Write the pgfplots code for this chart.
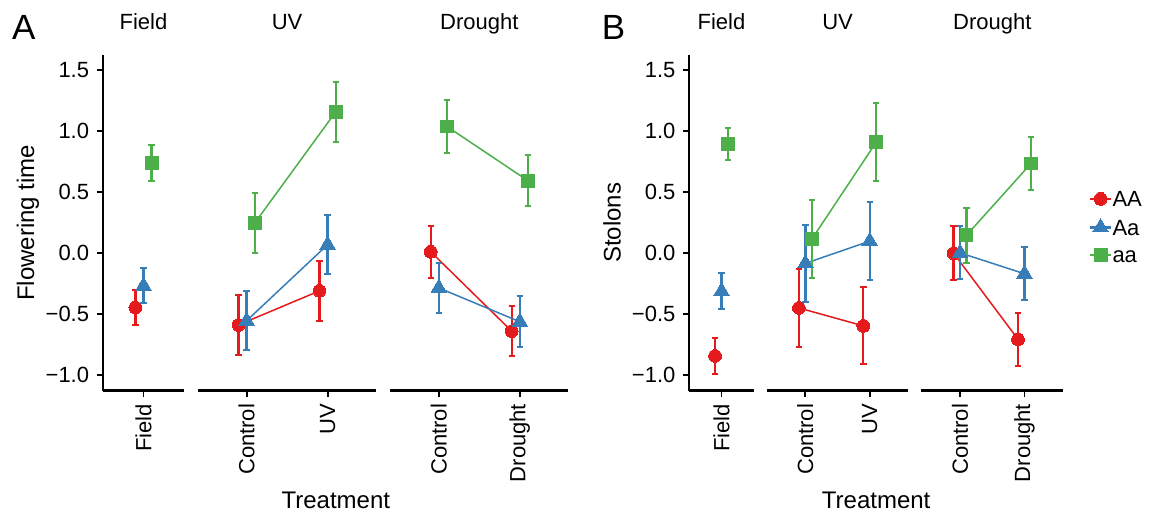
\documentclass[border=0pt]{standalone}
\usepackage{fontspec}
\setmainfont{Liberation Sans}
\usepackage{pgfplots}
\pgfplotsset{compat=1.18}

\definecolor{cAA}{HTML}{E41A1C}
\definecolor{cAa}{HTML}{377EB8}
\definecolor{caa}{HTML}{4DAF4A}

\newcommand{\ticksize}{\fontsize{11}{13}\selectfont}
\newcommand{\stripsize}{\fontsize{11}{13}\selectfont}
\newcommand{\labsize}{\fontsize{12}{14}\selectfont}

\pgfplotsset{
  facet/.style={
    scale only axis, height=167.75pt,
    ymin=-1.124, ymax=1.623,
    anchor=south west, clip=false,
    axis x line*=bottom,
    axis line style={line width=1.1pt, -},
    tick align=outside, major tick length=3pt,
    tick style={line width=0.9pt, black},
    tick label style={font=\ticksize},
    xticklabel style={rotate=90, anchor=east, inner sep=0pt},
    xticklabel shift=3.5pt,
    yticklabel style={anchor=east, inner sep=0pt},
    yticklabel shift=3.75pt,
    title style={at={(0.5,1)}, anchor=base, yshift=6.65pt, font=\stripsize, inner sep=0pt},
    every axis plot/.append style={line width=0.75pt},
    error bars/y dir=both, error bars/y explicit,
    error bars/error bar style={line width=1.15pt},
    error bars/error mark options={rotate=90, line width=1pt, mark size=1.6pt},
  },
  firstfacet/.style={facet, axis y line*=left, xmin=-0.5, xmax=0.5, xtick={0},
    ytick={-1,-0.5,0,0.5,1,1.5},
    yticklabels={−1.0,−0.5,0.0,0.5,1.0,1.5},
    ylabel style={at={([xshift=-34.4pt]rel axis cs:0,0.5)}, anchor=base, inner sep=0pt, font=\labsize}},
  otherfacet/.style={facet, axis y line=none, xmin=-0.6, xmax=1.6, xtick={0,1}},
  gAA/.style={cAA, mark=*, mark size=3.2pt, mark options={solid, line width=0pt}},
  gAa/.style={cAa, mark=triangle*, mark size=4.5pt, mark options={solid, line width=0pt}},
  gaa/.style={caa, mark=square*, mark size=3.2pt, mark options={solid, line width=0pt}},
}

\begin{document}
\begin{tikzpicture}
\useasboundingbox (0,0) rectangle (574.5pt,258pt);

% ---------- Panel A: flowering time ----------
\begin{axis}[firstfacet, at={(51.5pt,62.75pt)}, width=40.5pt,
  title={Field}, xticklabels={Field}, ylabel={Flowering time}]
  \addplot[gAA] coordinates {(-0.1,-0.445) +- (0,0.142)};
  \addplot[gAa] coordinates {(0,-0.267) +- (0,0.143)};
  \addplot[gaa] coordinates {(0.1,0.737) +- (0,0.148)};
  \node[anchor=base west, inner sep=0pt, font=\fontsize{17.5}{20}\selectfont]
    at ([xshift=-45.65pt, yshift=7.85pt]rel axis cs:0,1) {A};
\end{axis}

\begin{axis}[otherfacet, at={(99pt,62.75pt)}, width=89.1pt,
  title={UV}, xticklabels={Control,UV}, xlabel={Treatment},
  xlabel style={at={([xshift=24.35pt, yshift=-58.9pt]rel axis cs:0.5,0)}, anchor=base, inner sep=0pt, font=\labsize}]
  \addplot[gAA] coordinates {(-0.1,-0.587) +- (0,0.244) (0.9,-0.308) +- (0,0.243)};
  \addplot[gAa] coordinates {(0,-0.553) +- (0,0.242) (1,0.070) +- (0,0.240)};
  \addplot[gaa] coordinates {(0.1,0.247) +- (0,0.247) (1.1,1.157) +- (0,0.248)};
\end{axis}

\begin{axis}[otherfacet, at={(195.1pt,62.75pt)}, width=89.1pt,
  title={Drought}, xticklabels={Control,Drought}]
  \addplot[gAA] coordinates {(-0.1,0.012) +- (0,0.215) (0.9,-0.638) +- (0,0.206)};
  \addplot[gAa] coordinates {(0,-0.284) +- (0,0.208) (1,-0.561) +- (0,0.210)};
  \addplot[gaa] coordinates {(0.1,1.038) +- (0,0.220) (1.1,0.594) +- (0,0.211)};
\end{axis}

% ---------- Panel B: stolons ----------
\begin{axis}[firstfacet, at={(344.65pt,62.75pt)}, width=32.2pt,
  title={Field}, xticklabels={Field}, ylabel={Stolons}]
  \addplot[gAA] coordinates {(-0.1,-0.841) +- (0,0.145)};
  \addplot[gAa] coordinates {(0,-0.311) +- (0,0.148)};
  \addplot[gaa] coordinates {(0.1,0.894) +- (0,0.133)};
  \node[anchor=base west, inner sep=0pt, font=\fontsize{17.5}{20}\selectfont]
    at ([xshift=-43.95pt, yshift=7.85pt]rel axis cs:0,1) {B};
\end{axis}

\begin{axis}[otherfacet, at={(383.35pt,62.75pt)}, width=70.85pt,
  title={UV}, xticklabels={Control,UV}, xlabel={Treatment},
  xlabel style={at={([xshift=19.3pt, yshift=-58.9pt]rel axis cs:0.5,0)}, anchor=base, inner sep=0pt, font=\labsize}]
  \addplot[gAA] coordinates {(-0.1,-0.448) +- (0,0.318) (0.9,-0.595) +- (0,0.315)};
  \addplot[gAa] coordinates {(0,-0.083) +- (0,0.318) (1,0.099) +- (0,0.320)};
  \addplot[gaa] coordinates {(0.1,0.115) +- (0,0.318) (1.1,0.909) +- (0,0.320)};
\end{axis}

\begin{axis}[otherfacet, at={(460.7pt,62.75pt)}, width=70.85pt,
  title={Drought}, xticklabels={Control,Drought},
  legend style={at={([xshift=12.6pt]rel axis cs:1,0.488)}, anchor=west,
    draw=none, fill=none, inner sep=0pt, font=\ticksize, row sep=6pt,
    nodes={inner sep=0pt, text height=7.6pt, text depth=0pt},
    /tikz/every even column/.append style={column sep=3pt}},
  legend cell align=left,
  legend image code/.code={\draw[mark repeat=2, mark phase=2, line width=1.1pt]
    plot coordinates {(0pt,0pt) (5.4pt,0pt) (10.8pt,0pt)};}]
  \addplot[gAA] coordinates {(-0.1,0.000) +- (0,0.219) (0.9,-0.705) +- (0,0.216)};
  \addplot[gAa] coordinates {(0,0.003) +- (0,0.217) (1,-0.168) +- (0,0.217)};
  \addplot[gaa] coordinates {(0.1,0.147) +- (0,0.223) (1.1,0.734) +- (0,0.219)};
  \legend{AA,Aa,aa}
\end{axis}
\end{tikzpicture}
\end{document}
